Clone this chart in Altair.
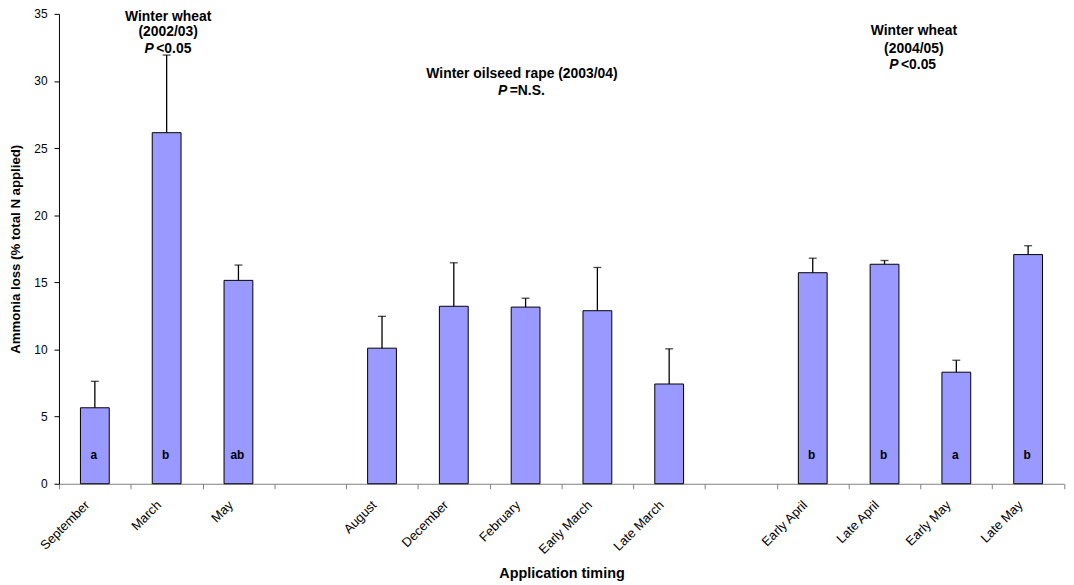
import altair as alt
import pandas as pd

# ---- data ----
categories = ["September", "March", "May", " ",
              "August", "December", "February", "Early March", "Late March", "  ",
              "Early April", "Late April", "Early May", "Late May"]
bar_cats = ["September", "March", "May",
            "August", "December", "February", "Early March", "Late March",
            "Early April", "Late April", "Early May", "Late May"]
loss = [5.66, 26.15, 15.15,
        10.10, 13.22, 13.16, 12.89, 7.43,
        15.72, 16.35, 8.31, 17.07]
error = [1.97, 5.78, 1.14,
         2.37, 3.24, 0.66, 3.22, 2.62,
         1.08, 0.28, 0.89, 0.66]
letters = ["a", "b", "ab",
           "", "", "", "", "",
           "b", "b", "a", "b"]

df = pd.DataFrame({"cat": bar_cats, "loss": loss, "err": error, "letter": letters})
df["top"] = df["loss"] + df["err"]
df["lab_y"] = 1.85

FONT = "Liberation Sans"
W, H = 1011.7, 473.0

x_enc = alt.X("cat:N", sort=categories,
              scale=alt.Scale(domain=categories, paddingInner=0, paddingOuter=0),
              axis=alt.Axis(title="Application timing", labelAngle=-45,
                            labelAlign="right", labelBaseline="middle",
                            labelPadding=14, labelOffset=-8,
                            labelFontSize=13, labelColor="black", labelFont=FONT,
                            tickBand="extent", tickSize=5, tickColor="#808080",
                            domainColor="#808080", titleFontSize=14.5,
                            titleFont=FONT, titleFontWeight="bold", titleColor="black",
                            titleBaseline="alphabetic", titleY=94.3, grid=False))
y_scale = alt.Scale(domain=[0, 35], nice=False)
y_axis = alt.Axis(title="Ammonia loss (% total N applied)", values=list(range(0, 36, 5)),
                  tickSize=5, tickColor="black", domainColor="black",
                  labelFontSize=12, labelColor="black", labelFont=FONT, labelPadding=7,
                  titleFontSize=13.3, titleFont=FONT, titleFontWeight="bold",
                  titleColor="black", titleX=-40, titleY=H / 2,
                  titleBaseline="alphabetic", titleAngle=-90, grid=False)

base = alt.Chart(df)

bars = base.mark_bar(size=29, fill="#9999FF", stroke="black", strokeWidth=1).encode(
    x=x_enc,
    y=alt.Y("loss:Q", scale=y_scale, axis=y_axis),
)
err_rule = base.mark_rule(color="black", strokeWidth=1.3).encode(
    x=alt.X("cat:N", sort=categories),
    y="loss:Q", y2="top:Q",
)
caps = base.mark_tick(orient="horizontal", size=8, thickness=1.3, color="black").encode(
    x=alt.X("cat:N", sort=categories),
    y="top:Q",
)
lett = base.mark_text(fontWeight="bold", fontSize=12, font=FONT, color="black",
                      baseline="alphabetic", dx=-1).encode(
    x=alt.X("cat:N", sort=categories),
    y="lab_y:Q",
    text="letter:N",
)

# ---- treatment annotations ----
def note(cat, yv, text, dx=0, align="center", italic=False):
    d = pd.DataFrame({"cat": [cat], "yv": [yv], "t": [text]})
    return alt.Chart(d).mark_text(
        fontWeight="bold", fontSize=14, font=FONT, color="black",
        fontStyle="italic" if italic else "normal",
        align=align, baseline="alphabetic", dx=dx,
    ).encode(x=alt.X("cat:N", sort=categories), y="yv:Q", text="t:N")

notes = [
    note("March", 34.50, "Winter wheat", dx=1.5),
    note("March", 33.33, "(2002/03)", dx=1.5),
    note("March", 32.12, "P", dx=-13, align="right", italic=True),
    note("March", 32.12, "<0.05", dx=-10.5, align="left"),
    note("February", 30.19, "Winter oilseed rape (2003/04)", dx=-3.6),
    note("February", 28.93, "P", dx=-18.5, align="right", italic=True),
    note("February", 28.93, "=N.S.", dx=-16, align="left"),
    note("Late April", 33.40, "Winter wheat", dx=29.5),
    note("Late April", 32.11, "(2004/05)", dx=29.5),
    note("Late April", 30.86, "P", dx=14, align="right", italic=True),
    note("Late April", 30.86, "<0.05", dx=16.5, align="left"),
]

chart = alt.layer(bars, err_rule, caps, lett, *notes).properties(
    width=W, height=H,
    autosize=alt.AutoSizeParams(type="none"),
    padding={"left": 51.3, "top": 4, "right": 2, "bottom": 99},
    background="white",
).configure_view(stroke=None)

chart.save("out.html", embed_options={"renderer": "svg", "actions": False})
